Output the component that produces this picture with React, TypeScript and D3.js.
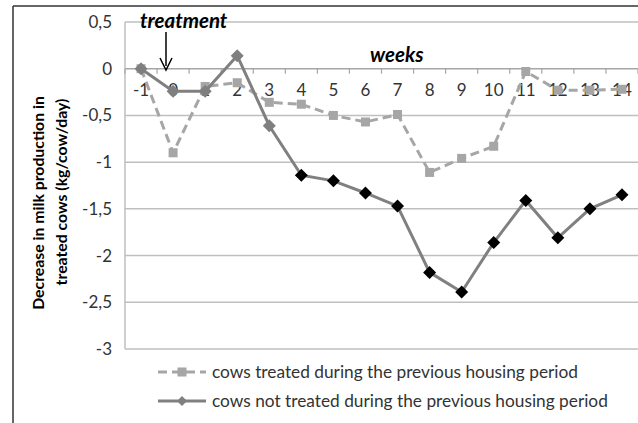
import React from 'react';
import * as d3 from 'd3';

const weeks = [-1, 0, 1, 2, 3, 4, 5, 6, 7, 8, 9, 10, 11, 12, 13, 14];
const treatedPrev = [0, -0.9, -0.19, -0.15, -0.36, -0.38, -0.5, -0.57, -0.49, -1.11, -0.96, -0.83, -0.03, -0.23, -0.23, -0.22];
const notTreatedPrev = [0, -0.24, -0.24, 0.14, -0.61, -1.14, -1.2, -1.33, -1.47, -2.18, -2.39, -1.86, -1.41, -1.81, -1.5, -1.35];
const yTicks = [0.5, 0, -0.5, -1, -1.5, -2, -2.5, -3];
const legendLabels = [
  'cows treated during the previous housing period',
  'cows not treated during the previous housing period',
];

const W = 638;
const H = 423;
const plot = { left: 125, right: 638, top: 22, bottom: 349 };
const font = 'Lato, "Open Sans", sans-serif';

const App: React.FC = () => {
  const x = d3.scaleBand<number>().domain(weeks).range([plot.left, plot.right]);
  const cx = (w: number) => x(w)! + x.bandwidth() / 2;
  const y = d3.scaleLinear().domain([-3, 0.5]).range([plot.bottom, plot.top]);

  const line = d3.line<number>()
    .x((_, i) => cx(weeks[i]))
    .y(d => y(d));

  const fmt = (v: number) => String(v).replace('.', ',');
  const diamond = (px: number, py: number, r: number) =>
    `M${px},${py - r}L${px + r},${py}L${px},${py + r}L${px - r},${py}Z`;

  return (
    <svg width={W} height={H} style={{ position: 'absolute', left: 0, top: 0 }} fontFamily={font}>
      <rect x={0} y={0} width={W} height={H} fill="#fff" />
      {/* frame */}
      <line x1={13} y1={6} x2={W} y2={6} stroke="#333" strokeWidth={1.5} />
      <line x1={13} y1={6} x2={13} y2={H} stroke="#333" strokeWidth={1.5} />

      {/* gridlines */}
      {yTicks.map(t => (
        <line key={t} x1={plot.left} x2={plot.right} y1={y(t)} y2={y(t)}
          stroke={t === 0 ? '#a6a6a6' : '#bfbfbf'} strokeWidth={1.5} />
      ))}
      <line x1={plot.left} x2={plot.left} y1={plot.top} y2={plot.bottom} stroke="#bfbfbf" strokeWidth={1.5} />
      {/* x ticks on zero axis */}
      {weeks.map(w => (
        <line key={w} x1={x(w)!} x2={x(w)!} y1={y(0)} y2={y(0) + 5} stroke="#a6a6a6" strokeWidth={1.2} />
      ))}
      <line x1={plot.right} x2={plot.right} y1={y(0)} y2={y(0) + 5} stroke="#a6a6a6" strokeWidth={1.2} />

      {/* y tick labels */}
      {yTicks.map(t => (
        <text key={t} x={112} y={y(t)} dy="0.35em" textAnchor="end" fontSize={17} fill="#333">{fmt(t)}</text>
      ))}
      {/* x tick labels */}
      {weeks.map(w => (
        <text key={w} x={cx(w)} y={y(0) + 21} dy="0.35em" textAnchor="middle" fontSize={17} fill="#333">{w}</text>
      ))}

      {/* series: treated previous (dashed) */}
      <path d={line(treatedPrev)!} fill="none" stroke="#a6a6a6" strokeWidth={3} strokeDasharray="9,5" />
      {treatedPrev.map((v, i) => (
        <rect key={i} x={cx(weeks[i]) - 4.5} y={y(v) - 4.5} width={9} height={9} fill="#a6a6a6" />
      ))}

      {/* series: not treated previous (solid) */}
      <path d={line(notTreatedPrev)!} fill="none" stroke="#808080" strokeWidth={3} />
      {notTreatedPrev.map((v, i) => (
        <path key={i} d={diamond(cx(weeks[i]), y(v), 6.5)} fill={i <= 4 ? '#7f7f7f' : '#000'} />
      ))}

      {/* annotations */}
      <text x={140} y={28} fontSize={20.5} fontWeight="bold" fontStyle="italic" fill="#000">treatment</text>
      <line x1={166} y1={32} x2={166} y2={66} stroke="#000" strokeWidth={1.5} />
      <path d="M160,58L166,70L172,58" fill="none" stroke="#000" strokeWidth={1.5} />
      <text x={370} y={62} fontSize={20.5} fontWeight="bold" fontStyle="italic" fill="#000">weeks</text>

      {/* y axis title */}
      <g transform="translate(38,203) rotate(-90)">
        <text x={0} y={0} dy="0.35em" textAnchor="middle" fontSize={15.8} fontWeight="bold" fill="#000">Decrease in milk production in</text>
      </g>
      <g transform="translate(61,192) rotate(-90)">
        <text x={0} y={0} dy="0.35em" textAnchor="middle" fontSize={15.8} fontWeight="bold" fill="#000">treated cows (kg/cow/day)</text>
      </g>

      {/* legend */}
      <g>
        <line x1={158} x2={206} y1={372} y2={372} stroke="#a6a6a6" strokeWidth={3} strokeDasharray="9,5" />
        <rect x={177.5} y={367.5} width={9} height={9} fill="#a6a6a6" />
        <text x={212} y={372} dy="0.35em" fontSize={17.3} fill="#333">{legendLabels[0]}</text>
        <line x1={158} x2={206} y1={401} y2={401} stroke="#808080" strokeWidth={3} />
        <path d={diamond(182, 401, 5)} fill="#808080" />
        <text x={212} y={401} dy="0.35em" fontSize={17.3} fill="#333">{legendLabels[1]}</text>
      </g>
    </svg>
  );
};

export default App;
